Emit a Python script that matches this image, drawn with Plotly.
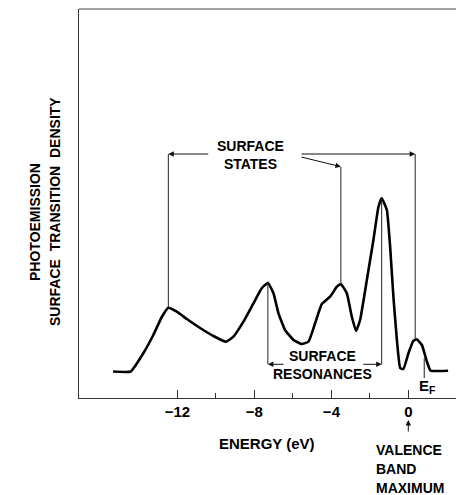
import numpy as np
import plotly.graph_objects as go

# ---- data ----
energy = [-15.34, -14.42, -13.77, -13.25, -12.81, -12.47, -12.03, -11.51, -10.82, -10.13,
          -9.47, -9.09, -8.57, -8.05, -7.62, -7.30, -7.01, -6.75, -6.41, -5.97,
          -5.54, -5.19, -4.85, -4.50, -4.07, -3.72, -3.51, -3.20, -2.94, -2.72,
          -2.51, -2.16, -1.82, -1.56, -1.39, -1.12, -0.95, -0.78, -0.60, -0.43,
          -0.26, 0.00, 0.26, 0.43, 0.70, 0.96, 1.15, 2.06]
density = [26.5, 26.5, 44.7, 63.0, 81.0, 90.3, 86.3, 79.0, 70.0, 62.0,
           56.3, 61.3, 76.3, 94.7, 109.7, 115.3, 104.7, 84.7, 68.0, 58.0,
           54.0, 56.3, 74.7, 94.0, 101.3, 111.3, 114.0, 104.7, 81.3, 67.0,
           78.0, 118.0, 158.0, 191.0, 199.7, 188.0, 151.0, 101.0, 58.0, 30.0,
           29.0, 44.7, 57.3, 58.7, 53.0, 36.3, 27.3, 27.3]

major_ticks = [-12, -8, -4, 0]
major_labels = ["\u221212", "\u22128", "\u22124", "0"]
minor_ticks = [-10, -6, -2]

surface_states = [-12.47, -3.51, 0.35]
surface_resonances = [-7.30, -1.39]
fermi_level = 0.82

FONT = "Liberation Sans"
LINE = "#222"

def curve_at(x):
    return float(np.interp(x, energy, density))

fig = go.Figure()
fig.add_trace(go.Scatter(x=energy, y=density, mode="lines",
                         line=dict(color="black", width=2.6, shape="spline", smoothing=0.35),
                         hoverinfo="skip", showlegend=False))

ss_y = 244
shapes = []
shapes.append(dict(type="line", x0=surface_states[0], x1=surface_states[0],
                   y0=curve_at(surface_states[0]), y1=ss_y, line=dict(color=LINE, width=1)))
shapes.append(dict(type="line", x0=surface_states[1], x1=surface_states[1],
                   y0=curve_at(surface_states[1]), y1=231, line=dict(color=LINE, width=1)))
shapes.append(dict(type="line", x0=surface_states[2], x1=surface_states[2],
                   y0=curve_at(surface_states[2]), y1=ss_y, line=dict(color=LINE, width=1)))
sr_y = 33.7
for xv in surface_resonances:
    shapes.append(dict(type="line", x0=xv, x1=xv, y0=curve_at(xv), y1=sr_y,
                       line=dict(color=LINE, width=1)))
shapes.append(dict(type="line", x0=fermi_level, x1=fermi_level, y0=40, y1=20,
                   line=dict(color=LINE, width=1)))
shapes.append(dict(type="line", xref="paper", yref="paper", x0=0, x1=1, y0=1, y1=1,
                   line=dict(color="#444", width=1)))

def arrow(x, y, ax, ay):
    return dict(x=x, y=y, ax=ax, ay=ay, xref="x", yref="y", axref="x", ayref="y",
                text="", showarrow=True, arrowhead=2, arrowsize=1.1, arrowwidth=1,
                arrowcolor="#111")

annotations = [
    arrow(surface_states[0], ss_y, -10.32, ss_y),
    arrow(surface_states[2], ss_y, -5.63, ss_y),
    arrow(surface_states[1], 231.3, -5.63, 241.3),
    arrow(surface_resonances[0], sr_y, -6.41, sr_y),
    arrow(surface_resonances[1], sr_y, -2.42, sr_y),
]

def font(size=14):
    return dict(family=FONT, size=size, color="black", weight="bold")

def text(t, x, y, size=14):
    return dict(text=t, x=x, y=y, xref="x", yref="y", showarrow=False,
                font=font(size), xanchor="center", yanchor="middle", align="center")

def ptext(t, x, y, size=14, xanchor="center", yanchor="middle", align="center", angle=0):
    return dict(text=t, x=x, y=y, xref="paper", yref="paper", showarrow=False,
                font=font(size), xanchor=xanchor, yanchor=yanchor, align=align,
                textangle=angle)

annotations += [
    text("SURFACE<br>STATES", -8.22, 243),
    text("SURFACE<br>RESONANCES", -4.47, 33.5),
    text("E<sub>F</sub>", 0.97, 12, size=15),
    ptext("ENERGY (eV)", 0.4987, -0.1157, size=15),
    ptext("VALENCE", 0.7825, (398 - 450) / 389, xanchor="left"),
    ptext("BAND", 0.7825, (398 - 469) / 389, xanchor="left"),
    ptext("MAXIMUM", 0.7825, (398 - 487.5) / 389, xanchor="left"),
    ptext("PHOTOEMISSION", -44 / 377, (398 - 222) / 389, size=14, angle=-90),
    ptext("SURFACE  TRANSITION  DENSITY", -24 / 377, (398 - 212) / 389, size=14, angle=-90),
    dict(x=0.8735, y=-0.0566, xref="paper", yref="paper", ax=0, ay=13,
         axref="pixel", ayref="pixel", text="", showarrow=True, arrowhead=2,
         arrowsize=1.1, arrowwidth=1, arrowcolor="#111"),
]

fig.update_layout(
    width=456, height=495,
    margin=dict(l=79, r=0, t=9, b=97),
    paper_bgcolor="white", plot_bgcolor="white",
    shapes=shapes, annotations=annotations,
    showlegend=False,
    xaxis=dict(range=[-17.11, 2.47], showgrid=False, zeroline=False,
               showline=True, linecolor="#333", linewidth=1,
               tickmode="array", tickvals=major_ticks, ticktext=major_labels,
               ticks="inside", ticklen=8, tickwidth=1, tickcolor="#333",
               tickfont=font(15),
               minor=dict(tickmode="array", tickvals=minor_ticks, ticks="inside",
                          ticklen=5, tickwidth=1, tickcolor="#333")),
    yaxis=dict(range=[0, 389], showgrid=False, zeroline=False,
               showline=True, linecolor="#333", linewidth=1,
               showticklabels=False, ticks=""),
)

fig.write_html("out.html")
